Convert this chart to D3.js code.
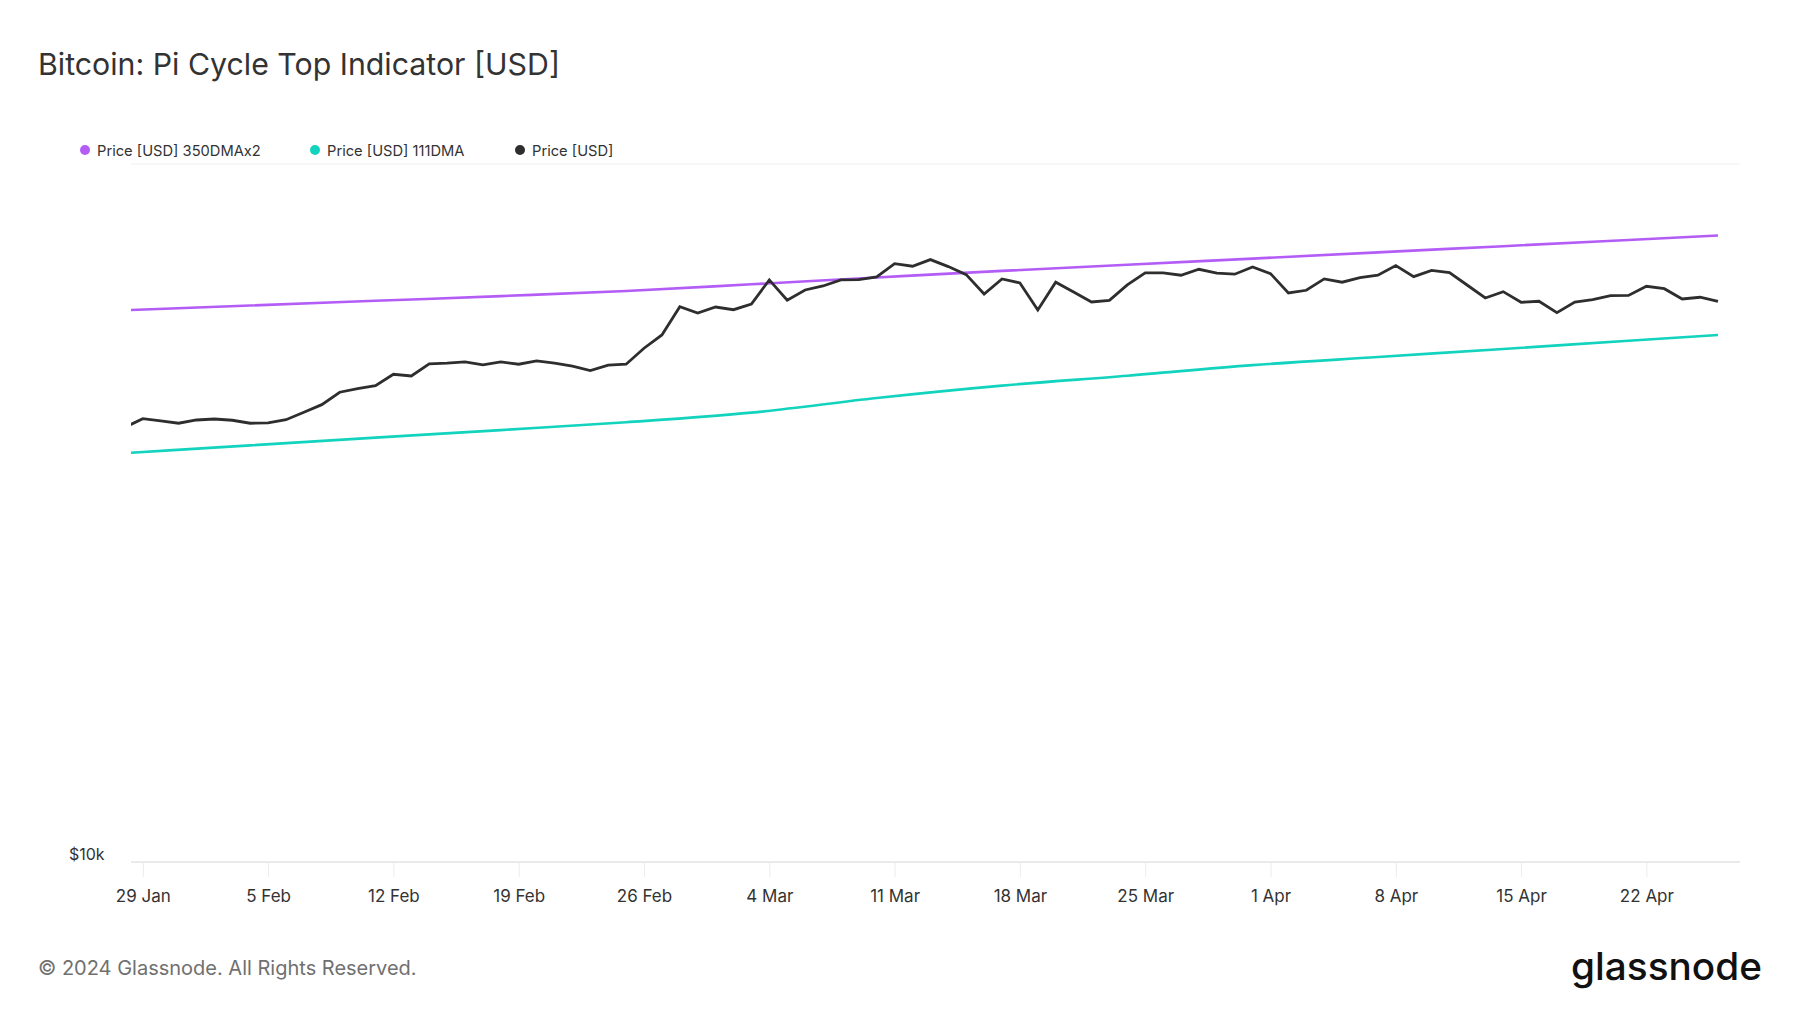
<!DOCTYPE html>
<html>
<head>
<meta charset="utf-8">
<script src="https://cdn.jsdelivr.net/npm/d3@7/dist/d3.min.js"></script>
<style>
  body { margin: 0; background: #fff; font-family: Inter, "Noto Sans", sans-serif; }
  svg text { font-family: Inter, "Noto Sans", sans-serif; }
</style>
</head>
<body>
<div id="chart"></div>
<script>
// daily price, starting 28 Jan 2024
const priceStart = '2024-01-28';
const priceUsd = [
  41960, 43170, 42840, 42520, 42980, 43120, 42940, 42520, 42560, 43020,
  44090, 45210, 47100, 47660, 48140, 49980, 49700, 51710, 51830, 52050,
  51540, 52050, 51660, 52220, 51830, 51320, 50580, 51490, 51660, 54460,
  56890, 62460, 61170, 62390, 61840, 63020, 68220, 63790, 65990, 66870,
  68220, 68290, 68900, 71990, 71380, 72950, 71290, 69430, 65130, 68450,
  67550, 61780, 67710, 65560, 63430, 63790, 67110, 69820, 69820, 69290,
  70660, 69750, 69520, 71220, 69660, 65350, 65930, 68450, 67710, 68740,
  69290, 71520, 68970, 70420, 69890, 67030, 64280, 65630, 63370, 63580,
  61230, 63430, 63920, 64770, 64830, 66810, 66280, 64060, 64430, 63580
];

// moving averages
const maDates = [
  '2024-01-28', '2024-02-04', '2024-02-11', '2024-02-18', '2024-02-25',
  '2024-03-03', '2024-03-10', '2024-03-17', '2024-03-24', '2024-03-31',
  '2024-04-07', '2024-04-14', '2024-04-21', '2024-04-26'
];
const dma350x2 = [61720, 62700, 63680, 64680, 65780, 67250, 68770, 70280, 71710, 73190, 74710, 76250, 77830, 78970];
const dma111 = [38530, 39530, 40550, 41570, 42660, 44030, 46210, 48140, 49740, 51500, 52900, 54330, 55820, 56890];

const xTickDates = [
  '2024-01-29', '2024-02-05', '2024-02-12', '2024-02-19', '2024-02-26', '2024-03-04',
  '2024-03-11', '2024-03-18', '2024-03-25', '2024-04-01', '2024-04-08', '2024-04-15', '2024-04-22'
];
const yTicks = [10000, 100000];
const yTickLabels = ['$10k', ''];

const seriesNames = ['Price [USD] 350DMAx2', 'Price [USD] 111DMA', 'Price [USD]'];
const seriesColors = ['#b45cf6', '#12d3bd', '#2e2e2e'];

const width = 1800;
const height = 1013;
const plot = { left: 131, right: 1740, top: 164, bottom: 862 };

const parse = d3.utcParse('%Y-%m-%d');
const t0 = parse(priceStart);
const priceData = priceUsd.map((v, i) => ({ date: d3.utcDay.offset(t0, i), value: v }));
const ma350 = maDates.map((d, i) => ({ date: parse(d), value: dma350x2[i] }));
const ma111 = maDates.map((d, i) => ({ date: parse(d), value: dma111[i] }));

const svg = d3.select('#chart').append('svg')
  .attr('width', width)
  .attr('height', height)
  .attr('viewBox', `0 0 ${width} ${height}`);

const x = d3.scaleUtc()
  .domain([Date.UTC(2024, 0, 28, 8, 10), Date.UTC(2024, 3, 27, 5, 30)])
  .range([plot.left, plot.right]);

const y = d3.scaleLog()
  .domain([10000, 100000])
  .range([plot.bottom, plot.top]);

// title
svg.append('text')
  .attr('x', 38)
  .attr('y', 75)
  .attr('font-size', 30.3)
  .attr('fill', '#333')
  .text('Bitcoin: Pi Cycle Top Indicator [USD]');

// legend
const legendX = [85, 315, 520];
const legend = svg.selectAll('g.legend')
  .data(seriesNames)
  .enter().append('g')
  .attr('class', 'legend')
  .attr('transform', (d, i) => `translate(${legendX[i]}, 150)`);
legend.append('circle')
  .attr('r', 5)
  .attr('fill', (d, i) => seriesColors[i]);
legend.append('text')
  .attr('x', 12)
  .attr('y', 5.5)
  .attr('font-size', 14.7)
  .attr('fill', '#333')
  .text(d => d);

// horizontal grid
svg.selectAll('line.grid')
  .data(yTicks)
  .enter().append('line')
  .attr('x1', plot.left)
  .attr('x2', plot.right)
  .attr('y1', d => y(d))
  .attr('y2', d => y(d))
  .attr('stroke', (d, i) => i === 0 ? '#e3e3e3' : '#f0f0f0')
  .attr('stroke-width', (d, i) => i === 0 ? 1.5 : 1);

svg.selectAll('text.ylabel')
  .data(yTicks)
  .enter().append('text')
  .attr('x', 69)
  .attr('y', d => y(d) - 2)
  .attr('font-size', 16)
  .attr('fill', '#333')
  .text((d, i) => yTickLabels[i]);

// x axis
const xAxis = d3.axisBottom(x)
  .tickValues(xTickDates.map(parse))
  .tickFormat(d3.utcFormat('%-d %b'))
  .tickSize(15)
  .tickPadding(13);

const gx = svg.append('g')
  .attr('transform', `translate(0, ${plot.bottom})`)
  .call(xAxis);
gx.select('.domain').remove();
gx.selectAll('.tick line').attr('stroke', '#ececec');
gx.selectAll('.tick text')
  .attr('font-size', 17)
  .attr('fill', '#333')
  .attr('font-family', 'Inter, "Noto Sans", sans-serif');

// lines
svg.append('defs').append('clipPath')
  .attr('id', 'plot-clip')
  .append('rect')
  .attr('x', plot.left)
  .attr('y', plot.top - 10)
  .attr('width', plot.right - plot.left)
  .attr('height', plot.bottom - plot.top + 10);

const line = d3.line()
  .x(d => x(d.date))
  .y(d => y(d.value));
const smooth = d3.line()
  .curve(d3.curveMonotoneX)
  .x(d => x(d.date))
  .y(d => y(d.value));

const lines = svg.append('g').attr('clip-path', 'url(#plot-clip)');
lines.append('path')
  .attr('d', smooth(ma350))
  .attr('fill', 'none')
  .attr('stroke', seriesColors[0])
  .attr('stroke-width', 2.6);
lines.append('path')
  .attr('d', smooth(ma111))
  .attr('fill', 'none')
  .attr('stroke', seriesColors[1])
  .attr('stroke-width', 2.6);
lines.append('path')
  .attr('d', line(priceData))
  .attr('fill', 'none')
  .attr('stroke', seriesColors[2])
  .attr('stroke-width', 2.8)
  .attr('stroke-linejoin', 'miter');

// footer
svg.append('text')
  .attr('x', 38)
  .attr('y', 975)
  .attr('font-size', 20)
  .attr('fill', '#707070')
  .text('© 2024 Glassnode. All Rights Reserved.');

svg.append('text')
  .attr('x', 1571)
  .attr('y', 980)
  .attr('font-size', 38)
  .attr('font-weight', 500)
  .attr('fill', '#111')
  .attr('textLength', 191)
  .attr('lengthAdjust', 'spacingAndGlyphs')
  .text('glassnode');
</script>
</body>
</html>
